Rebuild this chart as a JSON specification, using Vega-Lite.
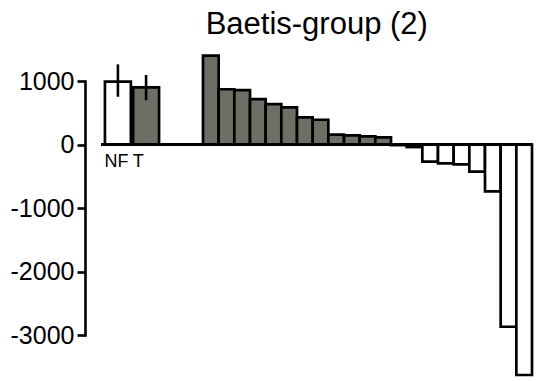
{
  "$schema": "https://vega.github.io/schema/vega-lite/v6.json",
  "padding": {"left": 10, "top": 9, "right": 3, "bottom": 4},
  "background": "white",
  "config": {
    "font": "Liberation Sans",
    "view": {"stroke": null},
    "axis": {"grid": false}
  },
  "title": {
    "text": "Baetis-group (2)",
    "fontSize": 31,
    "fontWeight": "normal",
    "color": "black",
    "font": "Liberation Sans",
    "anchor": "middle",
    "dx": 45,
    "offset": 13
  },
  "datasets": {
    "treatments": [
      {"label": "NF", "value": 990, "lo": 752, "hi": 1262, "favours": "NF"},
      {"label": "T", "value": 900, "lo": 697, "hi": 1094, "favours": "T"}
    ],
    "taxa": [
      {"rank": 1, "value": 1400, "favours": "T"},
      {"rank": 2, "value": 870, "favours": "T"},
      {"rank": 3, "value": 855, "favours": "T"},
      {"rank": 4, "value": 714, "favours": "T"},
      {"rank": 5, "value": 637, "favours": "T"},
      {"rank": 6, "value": 585, "favours": "T"},
      {"rank": 7, "value": 426, "favours": "T"},
      {"rank": 8, "value": 390, "favours": "T"},
      {"rank": 9, "value": 154, "favours": "T"},
      {"rank": 10, "value": 143, "favours": "T"},
      {"rank": 11, "value": 127, "favours": "T"},
      {"rank": 12, "value": 112, "favours": "T"},
      {"rank": 13, "value": -10, "favours": "NF"},
      {"rank": 14, "value": -40, "favours": "NF"},
      {"rank": 15, "value": -270, "favours": "NF"},
      {"rank": 16, "value": -297, "favours": "NF"},
      {"rank": 17, "value": -313, "favours": "NF"},
      {"rank": 18, "value": -428, "favours": "NF"},
      {"rank": 19, "value": -737, "favours": "NF"},
      {"rank": 20, "value": -2870, "favours": "NF"},
      {"rank": 21, "value": -3630, "favours": "NF"}
    ]
  },
  "hconcat": [
    {
      "width": 62,
      "height": 254,
      "data": {"name": "treatments"},
      "layer": [
        {
          "mark": {"type": "bar", "stroke": "black", "strokeWidth": 2.7},
          "encoding": {
            "x": {
              "field": "label",
              "type": "nominal",
              "sort": ["NF", "T"],
              "scale": {"paddingInner": 0.08, "paddingOuter": 0.14},
              "axis": null
            },
            "y": {
              "field": "value",
              "type": "quantitative",
              "scale": {"domain": [-3000, 1000], "nice": false},
              "axis": {
                "title": null,
                "values": [1000, 0, -1000, -2000, -3000],
                "labelExpr": "datum.value + ''",
                "labelFont": "Liberation Sans",
                "labelFontSize": 25,
                "labelColor": "black",
                "labelPadding": 3,
                "labelFlush": false,
                "labelOverlap": false,
                "domainColor": "black",
                "domainWidth": 2.6,
                "domainCap": "square",
                "tickColor": "black",
                "tickWidth": 2.6,
                "tickSize": 8,
                "offset": 16
              }
            },
            "fill": {
              "field": "favours",
              "type": "nominal",
              "scale": {"domain": ["NF", "T"], "range": ["white", "#6e6e64"]},
              "legend": null
            }
          }
        },
        {
          "mark": {"type": "rule", "stroke": "black", "strokeWidth": 2.6},
          "encoding": {
            "x": {"field": "label", "type": "nominal", "sort": ["NF", "T"]},
            "y": {"field": "lo", "type": "quantitative"},
            "y2": {"field": "hi"}
          }
        },
        {
          "mark": {
            "type": "text",
            "align": "left",
            "baseline": "top",
            "fontSize": 18,
            "font": "Liberation Sans",
            "color": "black",
            "dx": -0.5,
            "dy": 8
          },
          "encoding": {
            "x": {"field": "label", "type": "nominal", "sort": ["NF", "T"], "bandPosition": 0},
            "y": {"datum": 0, "type": "quantitative"},
            "text": {"field": "label"}
          }
        },
        {
          "mark": {"type": "rule", "stroke": "black", "strokeWidth": 3},
          "encoding": {"y": {"datum": 0, "type": "quantitative"}}
        }
      ]
    },
    {
      "width": 40,
      "height": 254,
      "data": {"name": "treatments"},
      "mark": {"type": "rule", "stroke": "black", "strokeWidth": 3},
      "encoding": {
        "y": {
          "datum": 0,
          "type": "quantitative",
          "scale": {"domain": [-3000, 1000], "nice": false},
          "axis": null
        }
      }
    },
    {
      "width": 329,
      "height": 254,
      "data": {"name": "taxa"},
      "layer": [
        {
          "mark": {"type": "bar", "stroke": "black", "strokeWidth": 2.7},
          "encoding": {
            "x": {
              "field": "rank",
              "type": "ordinal",
              "scale": {"paddingInner": 0, "paddingOuter": 0},
              "axis": null
            },
            "y": {
              "field": "value",
              "type": "quantitative",
              "scale": {"domain": [-3000, 1000], "nice": false},
              "axis": null
            },
            "fill": {
              "field": "favours",
              "type": "nominal",
              "scale": {"domain": ["NF", "T"], "range": ["white", "#6e6e64"]},
              "legend": null
            }
          }
        },
        {
          "mark": {"type": "rule", "stroke": "black", "strokeWidth": 3},
          "encoding": {"y": {"datum": 0, "type": "quantitative"}}
        }
      ]
    }
  ],
  "spacing": 0,
  "bounds": "flush"
}
